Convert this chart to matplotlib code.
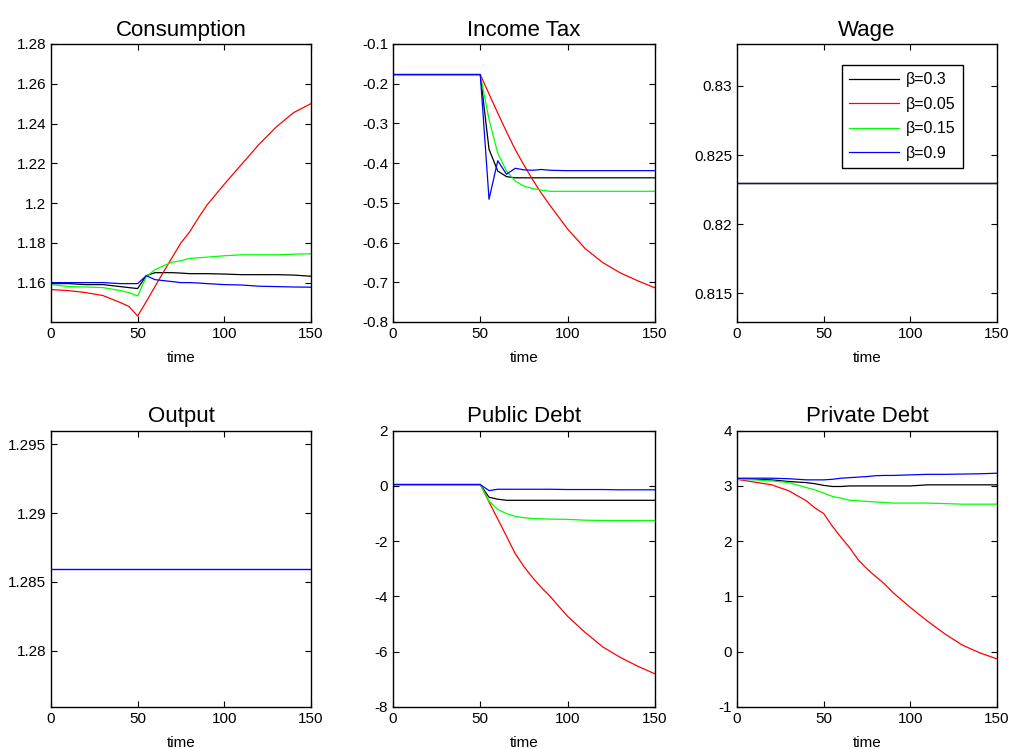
import matplotlib
matplotlib.use("Agg")
import matplotlib.pyplot as plt
from matplotlib.ticker import FormatStrFormatter

plt.rcParams['font.family'] = ['Liberation Sans', 'DejaVu Sans']

# time grid shared by every series
t = [0, 10, 20, 30, 40, 45, 50, 55, 60, 65, 70, 75, 80, 85, 90, 100, 110, 120, 130, 140, 150]

labels = ["\u03b2=0.3", "\u03b2=0.05", "\u03b2=0.15", "\u03b2=0.9"]
colors = ["k", "r", "#00ff00", "b"]

# Consumption
cons_03 = [1.1595, 1.1595, 1.159, 1.159, 1.158, 1.1575, 1.157, 1.1635, 1.165, 1.165, 1.165, 1.1648, 1.1645, 1.1645, 1.1645, 1.1643, 1.164, 1.164, 1.164, 1.1638, 1.1632]
cons_005 = [1.1565, 1.156, 1.155, 1.1535, 1.150, 1.148, 1.1432, 1.1505, 1.158, 1.1655, 1.1728, 1.180, 1.1855, 1.1925, 1.199, 1.2095, 1.2195, 1.2295, 1.2383, 1.2455, 1.250]
cons_015 = [1.159, 1.158, 1.1578, 1.1575, 1.156, 1.155, 1.1533, 1.163, 1.1665, 1.1685, 1.1703, 1.171, 1.1722, 1.1725, 1.1728, 1.1735, 1.174, 1.174, 1.174, 1.1743, 1.1745]
cons_09 = [1.160, 1.160, 1.160, 1.160, 1.1595, 1.1595, 1.1595, 1.1635, 1.1615, 1.161, 1.1605, 1.160, 1.160, 1.1598, 1.1595, 1.159, 1.1588, 1.1582, 1.158, 1.1578, 1.1577]

# Income tax
tax_03 = [-0.177, -0.177, -0.177, -0.177, -0.177, -0.177, -0.177, -0.365, -0.42, -0.434, -0.437, -0.437, -0.437, -0.437, -0.437, -0.437, -0.437, -0.437, -0.437, -0.437, -0.437]
tax_005 = [-0.177, -0.177, -0.177, -0.177, -0.177, -0.177, -0.177, -0.226, -0.274, -0.321, -0.366, -0.405, -0.442, -0.476, -0.507, -0.566, -0.615, -0.65, -0.676, -0.696, -0.714]
tax_015 = [-0.177, -0.177, -0.177, -0.177, -0.177, -0.177, -0.177, -0.29, -0.375, -0.42, -0.445, -0.458, -0.464, -0.468, -0.471, -0.471, -0.471, -0.471, -0.471, -0.471, -0.471]
tax_09 = [-0.177, -0.177, -0.177, -0.177, -0.177, -0.177, -0.177, -0.491, -0.394, -0.428, -0.413, -0.417, -0.418, -0.416, -0.418, -0.419, -0.419, -0.419, -0.419, -0.419, -0.419]

# Wage and output are flat for every beta
wage_level = 0.82298
output_level = 1.28595

# Public debt
pub_03 = [0.05, 0.05, 0.05, 0.05, 0.05, 0.05, 0.05, -0.41, -0.48, -0.52, -0.52, -0.52, -0.52, -0.52, -0.52, -0.52, -0.52, -0.52, -0.52, -0.52, -0.52]
pub_005 = [0.05, 0.05, 0.05, 0.05, 0.05, 0.05, 0.05, -0.58, -1.2, -1.82, -2.45, -2.92, -3.32, -3.68, -4.0, -4.72, -5.3, -5.82, -6.2, -6.52, -6.8]
pub_015 = [0.05, 0.05, 0.05, 0.05, 0.05, 0.05, 0.05, -0.55, -0.85, -1.0, -1.1, -1.15, -1.18, -1.19, -1.2, -1.21, -1.24, -1.25, -1.25, -1.25, -1.25]
pub_09 = [0.05, 0.05, 0.05, 0.05, 0.05, 0.05, 0.05, -0.17, -0.12, -0.12, -0.12, -0.12, -0.12, -0.12, -0.12, -0.13, -0.13, -0.13, -0.14, -0.14, -0.14]

# Private debt
priv_03 = [3.13, 3.12, 3.11, 3.08, 3.06, 3.04, 3.01, 2.99, 2.99, 3.0, 3.0, 3.0, 3.0, 3.0, 3.0, 3.0, 3.02, 3.02, 3.02, 3.02, 3.02]
priv_005 = [3.12, 3.07, 3.02, 2.91, 2.73, 2.6, 2.5, 2.27, 2.07, 1.88, 1.66, 1.5, 1.36, 1.23, 1.07, 0.8, 0.55, 0.32, 0.12, -0.02, -0.13]
priv_015 = [3.12, 3.11, 3.09, 3.06, 2.97, 2.93, 2.87, 2.81, 2.78, 2.74, 2.73, 2.72, 2.71, 2.70, 2.69, 2.69, 2.69, 2.68, 2.67, 2.67, 2.67]
priv_09 = [3.14, 3.14, 3.14, 3.13, 3.11, 3.11, 3.11, 3.12, 3.14, 3.15, 3.16, 3.17, 3.185, 3.19, 3.19, 3.2, 3.21, 3.21, 3.215, 3.22, 3.23]


def setup(ax, title, ylim, yticks):
    ax.set_title(title, fontsize=16)
    ax.set_xlim(0, 150)
    ax.set_xticks([0, 50, 100, 150])
    ax.set_ylim(*ylim)
    ax.set_yticks(yticks)
    ax.yaxis.set_major_formatter(FormatStrFormatter('%g'))
    ax.set_xlabel("time", fontsize=11, labelpad=7)
    ax.tick_params(direction="in", top=True, right=True, labelsize=11, length=4, width=0.8)
    for s in ax.spines.values():
        s.set_linewidth(1.0)


fig = plt.figure(figsize=(10.11, 7.49), dpi=100)
ax1 = fig.add_axes([0.0504, 0.5701, 0.2572, 0.3712])
ax2 = fig.add_axes([0.3887, 0.5701, 0.2591, 0.3712])
ax3 = fig.add_axes([0.7290, 0.5701, 0.2572, 0.3712])
ax4 = fig.add_axes([0.0504, 0.0561, 0.2572, 0.3689])
ax5 = fig.add_axes([0.3887, 0.0561, 0.2591, 0.3689])
ax6 = fig.add_axes([0.7290, 0.0561, 0.2572, 0.3689])

lw = 0.9
for ys, c in zip([cons_03, cons_005, cons_015, cons_09], colors):
    ax1.plot(t, ys, color=c, lw=lw)
setup(ax1, "Consumption", (1.1402, 1.28), [1.16, 1.18, 1.2, 1.22, 1.24, 1.26, 1.28])

for ys, c in zip([tax_03, tax_005, tax_015, tax_09], colors):
    ax2.plot(t, ys, color=c, lw=lw)
setup(ax2, "Income Tax", (-0.8, -0.1), [-0.8, -0.7, -0.6, -0.5, -0.4, -0.3, -0.2, -0.1])

for lab, c in zip(labels, colors):
    ax3.plot([t[0], t[-1]], [wage_level, wage_level], color=c, lw=lw, label=lab)
setup(ax3, "Wage", (0.81292, 0.83304), [0.815, 0.82, 0.825, 0.83])
leg = ax3.legend(loc="upper right", bbox_to_anchor=(0.869, 0.9245), borderaxespad=0,
                 fancybox=False, edgecolor="k", fontsize=11.5, handlelength=3.1,
                 handletextpad=0.45, labelspacing=0.6, borderpad=0.45, framealpha=1)
leg.get_frame().set_linewidth(1.0)

# all four lines coincide here; only the last one (blue) shows
for c in colors[:-1]:
    ax4.plot([t[0], t[-1]], [output_level, output_level], color=c, lw=0.5, zorder=2)
ax4.plot([t[0], t[-1]], [output_level, output_level], color=colors[-1], lw=1.0, zorder=3)
setup(ax4, "Output", (1.2759, 1.2960), [1.28, 1.285, 1.29, 1.295])

for ys, c in zip([pub_03, pub_005, pub_015, pub_09], colors):
    ax5.plot(t, ys, color=c, lw=lw)
setup(ax5, "Public Debt", (-8, 2), [-8, -6, -4, -2, 0, 2])

for ys, c in zip([priv_03, priv_005, priv_015, priv_09], colors):
    ax6.plot(t, ys, color=c, lw=lw)
setup(ax6, "Private Debt", (-1, 4), [-1, 0, 1, 2, 3, 4])

fig.savefig("out.png", dpi=100)
